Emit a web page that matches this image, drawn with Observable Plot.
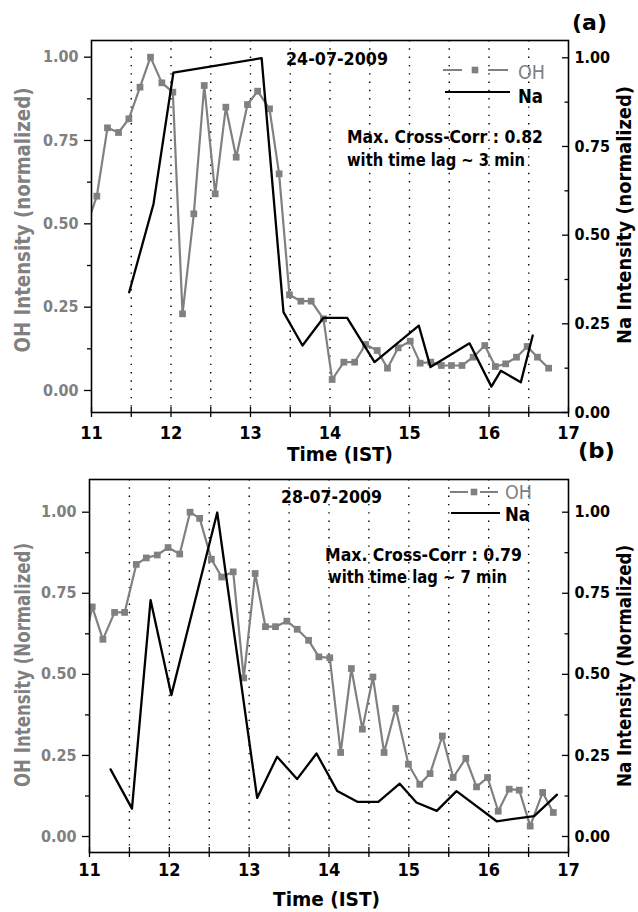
<!DOCTYPE html>
<html><head><meta charset="utf-8">
<script src="https://cdn.jsdelivr.net/npm/d3@7"></script>
<script src="https://cdn.jsdelivr.net/npm/@observablehq/plot@0.6"></script>
<style>
body{margin:0;background:#fff;}
#chart{position:relative;width:638px;height:912px;background:#fff;}
#chart svg{position:absolute;left:0;display:block;overflow:visible;}
</style></head><body><div id="chart"></div>
<script>
// ---------- Panel (a) 24-07-2009 ----------
const ohTimeA = [10.933, 11.067, 11.201, 11.340, 11.47, 11.61, 11.742, 11.885, 12.023, 12.145, 12.287, 12.418, 12.556, 12.69, 12.82, 12.962, 13.09, 13.239, 13.36, 13.49, 13.633, 13.763, 13.918, 14.027, 14.174, 14.31, 14.447, 14.594, 14.723, 14.858, 15.009, 15.134, 15.268, 15.40, 15.528, 15.66, 15.80, 15.947, 16.08, 16.21, 16.346, 16.48, 16.61, 16.75];
const ohValA = [0.49, 0.583, 0.788, 0.774, 0.815, 0.910, 1.0, 0.923, 0.895, 0.230, 0.530, 0.915, 0.590, 0.850, 0.70, 0.858, 0.898, 0.845, 0.650, 0.287, 0.268, 0.268, 0.215, 0.033, 0.085, 0.085, 0.138, 0.12, 0.067, 0.128, 0.148, 0.082, 0.085, 0.075, 0.075, 0.075, 0.10, 0.135, 0.072, 0.08, 0.10, 0.132, 0.10, 0.067];
const naTimeA = [11.474, 11.78, 12.03, 13.14, 13.415, 13.654, 13.918, 14.216, 14.56, 15.117, 15.264, 15.755, 16.03, 16.15, 16.40, 16.55];
const naValA = [0.339, 0.588, 0.958, 0.999, 0.283, 0.189, 0.267, 0.267, 0.142, 0.245, 0.128, 0.195, 0.073, 0.118, 0.085, 0.217];

// ---------- Panel (b) 28-07-2009 ----------
const ohTimeB = [10.90, 11.034, 11.168, 11.314, 11.44, 11.586, 11.711, 11.849, 11.984, 12.13, 12.26, 12.38, 12.527, 12.656, 12.80, 12.932, 13.075, 13.204, 13.33, 13.472, 13.602, 13.744, 13.873, 14.01, 14.146, 14.28, 14.418, 14.55, 14.69, 14.836, 14.995, 15.137, 15.266, 15.42, 15.555, 15.714, 15.848, 15.986, 16.12, 16.257, 16.383, 16.52, 16.676, 16.81];
const ohValB = [0.55, 0.708, 0.608, 0.691, 0.691, 0.839, 0.859, 0.868, 0.891, 0.871, 1.0, 0.981, 0.855, 0.80, 0.816, 0.489, 0.811, 0.647, 0.647, 0.664, 0.639, 0.605, 0.554, 0.551, 0.259, 0.518, 0.331, 0.492, 0.259, 0.395, 0.223, 0.161, 0.194, 0.31, 0.182, 0.241, 0.153, 0.182, 0.078, 0.146, 0.143, 0.032, 0.136, 0.074];
const naTimeB = [11.264, 11.532, 11.765, 12.025, 12.60, 13.10, 13.35, 13.60, 13.844, 14.104, 14.355, 14.618, 14.886, 15.095, 15.35, 15.597, 16.10, 16.57, 16.856];
const naValB = [0.207, 0.086, 0.729, 0.436, 0.999, 0.119, 0.246, 0.177, 0.256, 0.140, 0.107, 0.107, 0.163, 0.105, 0.079, 0.140, 0.047, 0.063, 0.129];

// ---------- ticks & labels ----------
const xTicks = [11, 12, 13, 14, 15, 16, 17];
const xHalf = [11.5, 12.5, 13.5, 14.5, 15.5, 16.5];
const dottedHours = [11.5, 12, 12.5, 13, 13.5, 14, 14.5, 15, 15.5, 16, 16.5];
const yTicks = [0, 0.25, 0.5, 0.75, 1];
const yMinor = [0.125, 0.375, 0.625, 0.875];
const xLabel = "Time (IST)";
const panelLetters = ["(a)", "(b)"];
const dates = ["24-07-2009", "28-07-2009"];
const corrLines = [["Max. Cross-Corr : 0.82", "with time lag ~ 3 min"], ["Max. Cross-Corr : 0.79", "with time lag ~ 7 min"]];
const leftLabels = ["OH Intensity (normalized)", "OH Intensity (Normalized)"];
const rightLabels = ["Na Intensity (normalized)", "Na Intensity (Normalized)"];
const seriesNames = ["OH", "Na"];

const GRAY = "#808080";
const FONT = "'DejaVu Sans Condensed', 'DejaVu Sans', sans-serif";
const fmt = d3.format(".2f");

const chart = document.getElementById("chart");

function panel(cfg) {
  const oh = cfg.ohT.map((t, i) => ({t, v: cfg.ohV[i]}));
  const na = cfg.naT.map((t, i) => ({t, v: cfg.naV[i]}));
  const [oLo, oHi] = cfg.ohDomain, [nLo, nHi] = cfg.naDomain;
  const toY = n => oLo + (n - nLo) * (oHi - oLo) / (nHi - nLo);
  const fromY = y => nLo + (y - oLo) * (nHi - nLo) / (oHi - oLo);
  const frameW = cfg.width - cfg.ml - cfg.mr;
  const frameH = cfg.height - cfg.mt - cfg.mb;
  const svg = Plot.plot({
    width: cfg.width, height: cfg.height,
    marginTop: cfg.mt, marginBottom: cfg.mb, marginLeft: cfg.ml, marginRight: cfg.mr,
    style: {fontFamily: FONT, background: "transparent", overflow: "visible"},
    x: {domain: [11, 17]},
    y: {domain: cfg.ohDomain},
    marks: [
      Plot.ruleX(dottedHours, {x: d => d, stroke: "black", strokeWidth: 1.4, strokeDasharray: "1.4,6.9"}),
      Plot.tickX(xTicks.concat(xHalf), {x: d => d, insetTop: frameH - 5, stroke: "black", strokeWidth: 1.3}),
      Plot.tickY(yTicks.map(toY), {y: d => d, insetLeft: frameW - 6, stroke: "black", strokeWidth: 1.3}),
      Plot.tickY(yMinor.map(toY), {y: d => d, insetLeft: frameW - 3.5, stroke: "black", strokeWidth: 1.3}),
      Plot.line(oh, {x: "t", y: "v", stroke: GRAY, strokeWidth: 2.2, clip: true}),
      Plot.dot(oh, {x: "t", y: "v", symbol: "square", fill: GRAY, r: 3.8, clip: true}),
      Plot.line(na, {x: "t", y: d => toY(d.v), stroke: "black", strokeWidth: 2.3, clip: true}),
      Plot.frame({stroke: "black", strokeWidth: 1.6}),
      Plot.axisX(xTicks, {anchor: "bottom", tickSize: 5, tickPadding: cfg.xPad, strokeWidth: 1.3, label: null,
        tickFormat: d => String(d), fontSize: 18, fontWeight: "bold", fill: "black"}),
      Plot.axisX(xHalf, {anchor: "bottom", tickSize: 5, strokeWidth: 1.3, fill: "none", label: null}),
      Plot.axisY(yTicks, {anchor: "left", tickSize: 7, tickPadding: 6, strokeWidth: 1.3, label: null,
        tickFormat: fmt, fontSize: 16, fontWeight: "bold", fill: GRAY, stroke: "black"}),
      Plot.axisY(yMinor, {anchor: "left", tickSize: 4, strokeWidth: 1.3, fill: "none", label: null}),
      Plot.axisY(yTicks.map(toY), {anchor: "right", tickSize: 0, tickPadding: 6, label: null,
        tickFormat: d => fmt(fromY(d)), fontSize: 16, fontWeight: "bold", fill: "black"})
    ]
  });
  svg.style.top = cfg.top + "px";
  chart.appendChild(svg);
}

panel({ohT: ohTimeA, ohV: ohValA, naT: naTimeA, naV: naValA,
  ohDomain: [-0.066, 1.050], naDomain: [0, 1.0488],
  width: 638, height: 448, top: 0, mt: 40, mb: 36, ml: 91, mr: 70, xPad: 9});
panel({ohT: ohTimeB, ohV: ohValB, naT: naTimeB, naV: naValB,
  ohDomain: [-0.0493, 1.1008], naDomain: [-0.0493, 1.1008],
  width: 638, height: 464, top: 448, mt: 31, mb: 60, ml: 89, mr: 70, xPad: 6});

// ---------- overlay texts & legends ----------
const ov = d3.create("svg").attr("width", 638).attr("height", 912)
  .style("top", "0px").style("pointer-events", "none").style("font-family", FONT);
function txt(x, y, s, o = {}) {
  const t = ov.append("text").attr("x", x).attr("y", y).text(s)
    .attr("font-size", o.size || 16).attr("font-weight", o.weight || "bold")
    .attr("fill", o.fill || "black").attr("text-anchor", o.anchor || "start");
  if (o.len) t.attr("textLength", o.len).attr("lengthAdjust", "spacingAndGlyphs");
  if (o.rot) t.attr("transform", `rotate(-90 ${x} ${y})`).attr("dy", "0.35em");
  return t;
}
const geo = [
  {letter: [572, 30, 35], date: [286, 65, 102], c1: [347, 143, 196], c2: [347, 166, 178],
   leg: {y1: 70, y2: 92, l1: [443, 462, 488, 508], m: 475, l2: [445, 510], tx: 518, ty1: 79, ty2: 103},
   time: [287, 461, 106], left: [23, 220, 265], right: [624, 215, 258]},
  {letter: [578, 458, 37], date: [281, 503, 101], c1: [325, 561, 197], c2: [328, 583, 179],
   leg: {y1: 492, y2: 513, l1: [450, 468, 480, 498], m: 474, l2: [451, 500], tx: 505, ty1: 499, ty2: 521},
   time: [273, 906, 107], left: [23, 665, 244], right: [624, 666, 242]}
];
geo.forEach((g, i) => {
  txt(g.letter[0], g.letter[1], panelLetters[i], {size: 22, len: g.letter[2]});
  txt(g.date[0], g.date[1], dates[i], {size: 18, len: g.date[2]});
  txt(g.c1[0], g.c1[1], corrLines[i][0], {size: 17, len: g.c1[2]});
  txt(g.c2[0], g.c2[1], corrLines[i][1], {size: 17, len: g.c2[2]});
  txt(g.time[0], g.time[1], xLabel, {size: 20, len: g.time[2]});
  txt(g.left[0], g.left[1], leftLabels[i], {size: 21, fill: GRAY, anchor: "middle", rot: true, len: g.left[2]});
  txt(g.right[0], g.right[1], rightLabels[i], {size: 20, anchor: "middle", rot: true, len: g.right[2]});
  const L = g.leg;
  ov.append("line").attr("x1", L.l1[0]).attr("x2", L.l1[1]).attr("y1", L.y1).attr("y2", L.y1).attr("stroke", GRAY).attr("stroke-width", 2);
  ov.append("line").attr("x1", L.l1[2]).attr("x2", L.l1[3]).attr("y1", L.y1).attr("y2", L.y1).attr("stroke", GRAY).attr("stroke-width", 2);
  ov.append("rect").attr("x", L.m - 3.3).attr("y", L.y1 - 3.3).attr("width", 6.6).attr("height", 6.6).attr("fill", GRAY);
  ov.append("line").attr("x1", L.l2[0]).attr("x2", L.l2[1]).attr("y1", L.y2).attr("y2", L.y2).attr("stroke", "black").attr("stroke-width", 2.2);
  txt(L.tx, L.ty1, seriesNames[0], {size: 19, weight: "normal", fill: GRAY, len: 27});
  txt(L.tx, L.ty2, seriesNames[1], {size: 19, len: 25});
});
chart.appendChild(ov.node());
</script></body></html>
